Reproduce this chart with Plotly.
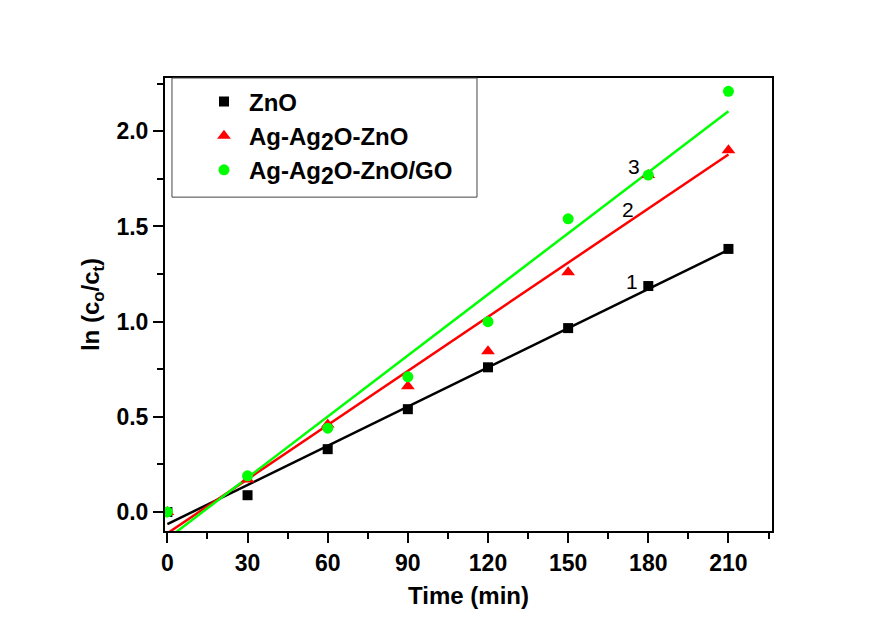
import numpy as np
import plotly.graph_objects as go

time_min = [0, 30, 60, 90, 120, 150, 180, 210]
zno = [0.0, 0.088, 0.33, 0.54, 0.76, 0.966, 1.187, 1.382]
ag_zno = [0.0, 0.17, 0.46, 0.66, 0.845, 1.26, 1.77, 1.90]
ag_zno_go = [0.0, 0.19, 0.44, 0.71, 1.0, 1.54, 1.77, 2.21]

SUB2 = "<sub><span style='font-size:23px'>2</span></sub>"
series_names = ["ZnO", f"Ag-Ag{SUB2}O-ZnO", f"Ag-Ag{SUB2}O-ZnO/GO"]
series_values = [zno, ag_zno, ag_zno_go]
series_colors = ["#000000", "#ff0000", "#00ff00"]
series_symbols = ["square", "triangle-up", "circle"]
series_sizes = [10, 12, 11]
line_labels = ["1", "2", "3"]
label_pos = [(174, 1.21), (172.5, 1.59), (174.5, 1.815)]

x_ticks = [0, 30, 60, 90, 120, 150, 180, 210]
y_ticks = [0.0, 0.5, 1.0, 1.5, 2.0]
y_tick_text = ["0.0", "0.5", "1.0", "1.5", "2.0"]

FONT = "Liberation Sans, Arial"

fig = go.Figure()
xs = np.array(time_min, dtype=float)
for name, vals, col in zip(series_names, series_values, series_colors):
    slope, icpt = np.polyfit(xs, np.array(vals), 1)
    xf = np.array([0.0, 210.0])
    fig.add_trace(go.Scatter(x=xf, y=slope * xf + icpt, mode="lines",
                             line=dict(color=col, width=2.5), showlegend=False,
                             hoverinfo="skip"))
for i, (name, vals, col, sym, sz) in enumerate(zip(series_names, series_values, series_colors, series_symbols, series_sizes)):
    fig.add_trace(go.Scatter(x=time_min, y=vals, mode="markers", name=name,
                             marker=dict(color=col, symbol=sym, size=sz, line=dict(width=0))))

for lab, (lx, ly) in zip(line_labels, label_pos):
    fig.add_annotation(x=lx, y=ly, text=lab, showarrow=False,
                       font=dict(family=FONT, size=21, color="black"))

# legend frame
fig.add_shape(type="rect", xref="paper", yref="paper", x0=0.0115, x1=0.514, y0=0.737, y1=1.0,
              line=dict(color="#444444", width=1), fillcolor="white", layer="above")

axis_common = dict(showline=True, linecolor="black", linewidth=2, mirror=True,
                   ticks="outside", ticklen=10, tickwidth=2, tickcolor="black",
                   showgrid=False, zeroline=False,
                   tickfont=dict(family=FONT, size=23, color="black", weight="bold"))

fig.update_xaxes(range=[-0.9, 226.3], tickmode="array", tickvals=x_ticks,
                 minor=dict(dtick=15, tick0=0, ticks="outside", ticklen=6, tickwidth=2, tickcolor="black"),
                 title=dict(text="Time (min)", standoff=13,
                            font=dict(family=FONT, size=24, color="black", weight="bold")),
                 **axis_common)
fig.update_yaxes(range=[-0.1, 2.28], tickmode="array", tickvals=y_ticks, ticktext=y_tick_text,
                 minor=dict(dtick=0.25, tick0=0, ticks="outside", ticklen=6, tickwidth=2, tickcolor="black"),
                 title=dict(text="ln (c<sub>o</sub>/c<sub>t</sub>)", standoff=10,
                            font=dict(family=FONT, size=24, color="black", weight="bold")),
                 **axis_common)

fig.update_layout(
    width=866, height=612,
    margin=dict(l=157, r=102, t=70, b=89),
    paper_bgcolor="white", plot_bgcolor="white",
    legend=dict(x=0.056, y=0.997, xanchor="left", yanchor="top",
                borderwidth=0, bgcolor="rgba(0,0,0,0)",
                font=dict(family=FONT, size=24, color="black", weight="bold"),
                itemwidth=40),
)

fig.write_html("out.html")
